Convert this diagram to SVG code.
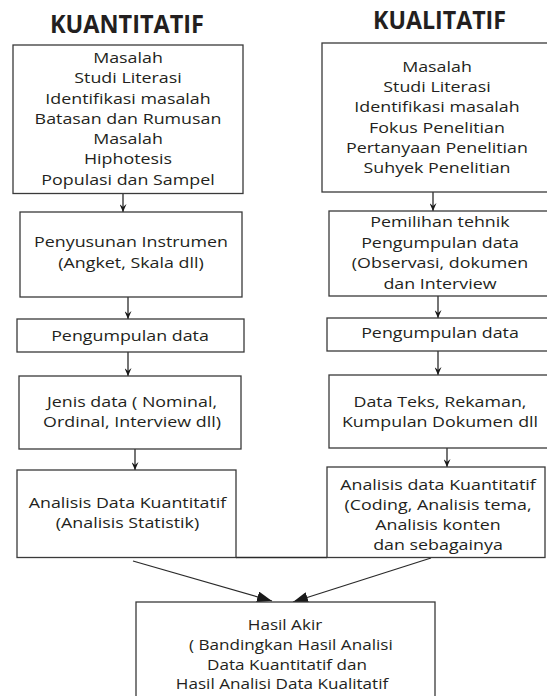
<svg xmlns="http://www.w3.org/2000/svg" width="547" height="696" viewBox="0 0 547 696">
<style>
.box{fill:#fff;stroke:#3a3a3a;stroke-width:1.3}
.t{font-family:"Open Sans","Liberation Sans",sans-serif;font-size:14.5px;fill:#231f20;text-anchor:middle}
.h{font-family:"Open Sans","Liberation Sans",sans-serif;font-size:25px;font-weight:700;fill:#231f20}
.c{stroke:#2a2a2a;stroke-width:1.3;fill:none}
</style>
<defs>
<marker id="sm" viewBox="0 0 8 7" refX="8" refY="3.5" markerWidth="8" markerHeight="7" markerUnits="userSpaceOnUse" orient="auto">
<path d="M0,0 L8,3.5 L0,7 L3,3.5 Z" fill="#1a1a1a"/>
</marker>
<marker id="lg" viewBox="0 0 15 11" refX="15" refY="5.5" markerWidth="15" markerHeight="11" markerUnits="userSpaceOnUse" orient="auto">
<path d="M0,0 L15,5.5 L0,11 Z" fill="#1a1a1a"/>
</marker>
</defs>
<rect width="547" height="696" fill="#fff"/>
<text class="h" x="50" y="33" textLength="154" lengthAdjust="spacingAndGlyphs">KUANTITATIF</text>
<text class="h" x="373" y="29" textLength="133" lengthAdjust="spacingAndGlyphs">KUALITATIF</text>

<g id="connectors">
<line class="c" x1="123" y1="194" x2="123" y2="212" marker-end="url(#sm)"/>
<line class="c" x1="128" y1="297" x2="128" y2="319" marker-end="url(#sm)"/>
<line class="c" x1="128" y1="352" x2="128" y2="376" marker-end="url(#sm)"/>
<line class="c" x1="135" y1="449" x2="135" y2="470" marker-end="url(#sm)"/>
<line class="c" x1="433" y1="192" x2="433" y2="211" marker-end="url(#sm)"/>
<line class="c" x1="438" y1="296" x2="438" y2="318" marker-end="url(#sm)"/>
<line class="c" x1="438" y1="351" x2="438" y2="375" marker-end="url(#sm)"/>
<line class="c" x1="447" y1="448" x2="447" y2="467" marker-end="url(#sm)"/>
<line class="c" x1="236" y1="557.5" x2="327" y2="557.5"/>
<line class="c" x1="133" y1="561" x2="272" y2="601" marker-end="url(#lg)"/>
<line class="c" x1="431" y1="558" x2="293" y2="602" marker-end="url(#lg)"/>
</g>

<g id="n-kuan-1">
<rect class="box" x="13" y="45" width="230" height="148.5"/>
<text class="t" transform="translate(128,63) scale(1.23,1)"><tspan x="0" y="0">Masalah</tspan><tspan x="0" y="20.3">Studi Literasi</tspan><tspan x="0" y="40.6">Identifikasi masalah</tspan><tspan x="0" y="60.9">Batasan dan Rumusan</tspan><tspan x="0" y="81.2">Masalah</tspan><tspan x="0" y="101.5">Hiphotesis</tspan><tspan x="0" y="121.8">Populasi dan Sampel</tspan></text>
</g>

<g id="n-kual-1">
<rect class="box" x="322" y="43" width="240" height="149"/>
<text class="t" transform="translate(437,72) scale(1.23,1)"><tspan x="0" y="0">Masalah</tspan><tspan x="0" y="20.2">Studi Literasi</tspan><tspan x="0" y="40.4">Identifikasi masalah</tspan><tspan x="0" y="60.6">Fokus Penelitian</tspan><tspan x="0" y="80.8">Pertanyaan Penelitian</tspan><tspan x="0" y="101">Suhyek Penelitian</tspan></text>
</g>

<g id="n-kuan-2">
<rect class="box" x="20" y="212" width="222" height="85"/>
<text class="t" transform="translate(131,247) scale(1.23,1)"><tspan x="0" y="0">Penyusunan Instrumen</tspan><tspan x="0" y="21">(Angket, Skala dll)</tspan></text>
</g>

<g id="n-kual-2">
<rect class="box" x="329" y="211" width="230" height="85"/>
<text class="t" transform="translate(440,227) scale(1.23,1)"><tspan x="0" y="0">Pemilihan tehnik</tspan><tspan x="0" y="20.7">Pengumpulan data</tspan><tspan x="0" y="41.4">(Observasi, dokumen</tspan><tspan x="0" y="62.1">dan Interview</tspan></text>
</g>

<g id="n-kuan-3">
<rect class="box" x="17" y="319" width="227" height="33"/>
<text class="t" transform="translate(130,341) scale(1.23,1)"><tspan x="0" y="0">Pengumpulan data</tspan></text>
</g>

<g id="n-kual-3">
<rect class="box" x="327" y="318" width="232" height="33"/>
<text class="t" transform="translate(440,338) scale(1.23,1)"><tspan x="0" y="0">Pengumpulan data</tspan></text>
</g>

<g id="n-kuan-4">
<rect class="box" x="19" y="376" width="222" height="73"/>
<text class="t" transform="translate(132,407) scale(1.23,1)"><tspan x="0" y="0">Jenis data ( Nominal,</tspan><tspan x="0" y="20">Ordinal, Interview dll)</tspan></text>
</g>

<g id="n-kual-4">
<rect class="box" x="329" y="375" width="230" height="73"/>
<text class="t" transform="translate(440,407) scale(1.23,1)"><tspan x="0" y="0">Data Teks, Rekaman,</tspan><tspan x="0" y="20">Kumpulan Dokumen dll</tspan></text>
</g>

<g id="n-kuan-5">
<rect class="box" x="17" y="470" width="219" height="87.5"/>
<text class="t" transform="translate(127.5,508) scale(1.23,1)"><tspan x="0" y="0">Analisis Data Kuantitatif</tspan><tspan x="0" y="20">(Analisis Statistik)</tspan></text>
</g>

<g id="n-kual-5">
<rect class="box" x="327" y="467" width="218" height="90.5"/>
<text class="t" transform="translate(438,490) scale(1.23,1)"><tspan x="0" y="0">Analisis data Kuantitatif</tspan><tspan x="0" y="20">(Coding, Analisis tema,</tspan><tspan x="0" y="40">Analisis konten</tspan><tspan x="0" y="60">dan sebagainya</tspan></text>
</g>

<g id="n-hasil">
<rect class="box" x="136" y="602" width="299" height="120"/>
<text class="t" transform="translate(285,630) scale(1.18,1)"><tspan x="0" y="0">Hasil Akir</tspan><tspan x="5" y="20">( Bandingkan Hasil Analisi</tspan><tspan x="1.7" y="40">Data Kuantitatif dan</tspan><tspan x="-2.5" y="59.5">Hasil Analisi Data Kualitatif</tspan></text>
</g>
</svg>
